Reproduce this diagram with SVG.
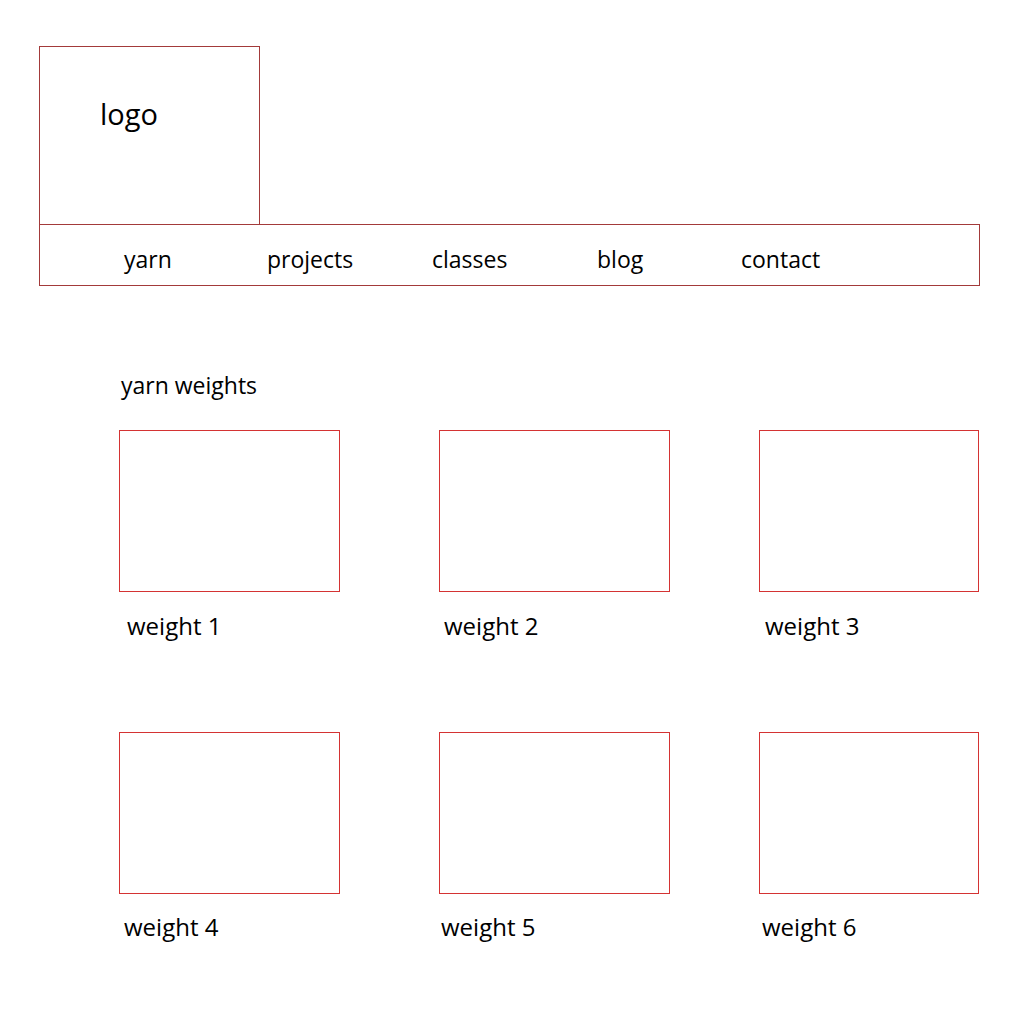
<svg xmlns="http://www.w3.org/2000/svg" width="1020" height="1020" viewBox="0 0 1020 1020">
<style>
text{font-family:"Open Sans","Liberation Sans",sans-serif;fill:#000;font-size:23px}
.lbl{font-size:24px}
.hdr{fill:none;stroke:#a33a3a;stroke-width:1}
.box{fill:none;stroke:#d43333;stroke-width:1}
</style>
<rect width="1020" height="1020" fill="#fff"/>
<g id="logo"><rect class="hdr" x="39.5" y="46.5" width="220" height="178"/><text x="100" y="125" style="font-size:29px">logo</text></g>
<g id="nav"><rect class="hdr" x="39.5" y="224.5" width="940" height="61"/>
<text x="124" y="268">yarn</text><text x="267" y="268">projects</text><text x="432" y="268">classes</text><text x="597" y="268">blog</text><text x="741" y="268">contact</text></g>
<g id="title"><text x="121" y="394">yarn weights</text></g>
<g id="w1"><rect class="box" x="119.5" y="430.5" width="220" height="161"/><text class="lbl" x="127" y="635">weight 1</text></g>
<g id="w2"><rect class="box" x="439.5" y="430.5" width="230" height="161"/><text class="lbl" x="444" y="635">weight 2</text></g>
<g id="w3"><rect class="box" x="759.5" y="430.5" width="219" height="161"/><text class="lbl" x="765" y="635">weight 3</text></g>
<g id="w4"><rect class="box" x="119.5" y="732.5" width="220" height="161"/><text class="lbl" x="124" y="936">weight 4</text></g>
<g id="w5"><rect class="box" x="439.5" y="732.5" width="230" height="161"/><text class="lbl" x="441" y="936">weight 5</text></g>
<g id="w6"><rect class="box" x="759.5" y="732.5" width="219" height="161"/><text class="lbl" x="762" y="936">weight 6</text></g>
<g id="connectors"/>
</svg>
